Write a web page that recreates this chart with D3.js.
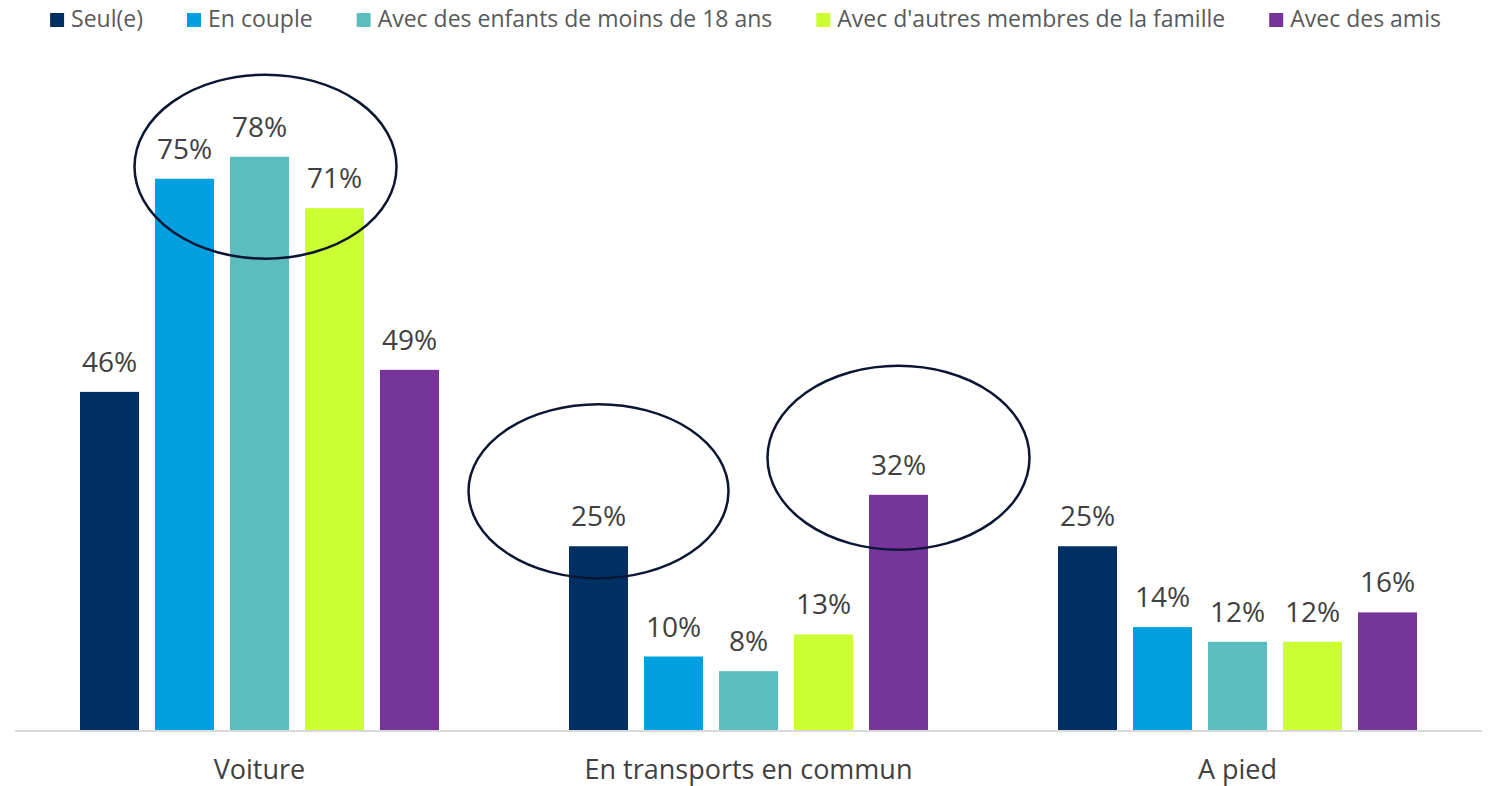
<!DOCTYPE html>
<html>
<head>
<meta charset="utf-8">
<script src="https://cdn.jsdelivr.net/npm/d3@7"></script>
<style>
  body { margin: 0; background: #fff; }
  svg { display: block; font-family: "Open Sans", sans-serif; }
</style>
</head>
<body>
<svg id="chart"></svg>
<script>
// categories and series
const categories = ['Voiture', 'En transports en commun', 'A pied'];
const series = ['Seul(e)', 'En couple', 'Avec des enfants de moins de 18 ans', "Avec d'autres membres de la famille", 'Avec des amis'];
const colors = ['#003063', '#009FE0', '#5CBDBE', '#CCFF33', '#77349B'];

// values in %, one array per series (Voiture, transports, a pied)
const seul = [46, 25, 25];
const couple = [75, 10, 14];
const enfants = [78, 8, 12];
const famille = [71, 13, 12];
const amis = [49, 32, 16];
const values = [seul, couple, enfants, famille, amis];

// circled bars: [category index, series index]
const highlights = [[0, 2], [1, 0], [1, 4]];

const width = 1491, height = 786;

const svg = d3.select('#chart')
	.attr('width', width)
	.attr('height', height);

// scales
const x0 = d3.scaleBand().domain(categories).range([15, 1482]).paddingInner(0).paddingOuter(0);
const x1 = d3.scaleBand().domain(series).range([0, x0.bandwidth()])
	.paddingInner(16 / 75).paddingOuter(0.8667);
const y = d3.scaleLinear().domain([0, 80]).range([730, 142]);
const color = d3.scaleOrdinal(series, colors);

// Draw bars
const groups = svg.append('g')
	.selectAll('g')
	.data(categories)
	.join('g')
	.attr('transform', d => `translate(${x0(d)},0)`);

groups.selectAll('rect')
	.data((c, ci) => series.map((s, si) => ({ s, v: values[si][ci] })))
	.join('rect')
	.attr('x', d => x1(d.s))
	.attr('y', d => y(d.v))
	.attr('width', x1.bandwidth())
	.attr('height', d => y(0) - y(d.v))
	.attr('fill', d => color(d.s));

// value labels
groups.selectAll('text')
	.data((c, ci) => series.map((s, si) => ({ s, v: values[si][ci] })))
	.join('text')
	.attr('x', d => x1(d.s) + x1.bandwidth() / 2)
	.attr('y', d => y(d.v) - 20)
	.attr('text-anchor', 'middle')
	.attr('font-size', 28)
	.attr('fill', '#404040')
	.text(d => d.v + '%');

// x axis line
svg.append('line')
	.attr('x1', x0.range()[0]).attr('x2', x0.range()[1])
	.attr('y1', y(0) + 1).attr('y2', y(0) + 1)
	.attr('stroke', '#d9d9d9')
	.attr('stroke-width', 2);

// category labels
svg.append('g')
	.selectAll('text')
	.data(categories)
	.join('text')
	.attr('x', d => x0(d) + x0.bandwidth() / 2)
	.attr('y', 779)
	.attr('text-anchor', 'middle')
	.attr('font-size', 27)
	.attr('fill', '#404040')
	.text(d => d);

// ellipses around highlighted bars
const ellipseShape = [
	{ dx: 6, dy: 10, rx: 131, ry: 92 },
	{ dx: 0, dy: -55, rx: 130, ry: 87 },
	{ dx: 0, dy: -37, rx: 131, ry: 92 }
];
svg.append('g')
	.selectAll('ellipse')
	.data(highlights)
	.join('ellipse')
	.attr('cx', (d, i) => x0(categories[d[0]]) + x1(series[d[1]]) + x1.bandwidth() / 2 + ellipseShape[i].dx)
	.attr('cy', (d, i) => y(values[d[1]][d[0]]) + ellipseShape[i].dy)
	.attr('rx', (d, i) => ellipseShape[i].rx)
	.attr('ry', (d, i) => ellipseShape[i].ry)
	.attr('fill', 'none')
	.attr('stroke', '#0a1633')
	.attr('stroke-width', 2.5);

// legend, centered at the top
const legend = svg.append('g');
const items = legend.selectAll('g')
	.data(series)
	.join('g');
items.append('rect')
	.attr('width', 14).attr('height', 14)
	.attr('y', 13)
	.attr('fill', d => color(d));
items.append('text')
	.attr('x', 21)
	.attr('y', 27)
	.attr('font-size', 23)
	.attr('fill', '#595959')
	.text(d => d);

let pos = 0;
items.each(function () {
	const w = this.querySelector('text').getComputedTextLength();
	d3.select(this).attr('transform', `translate(${pos},0)`);
	pos += 21 + w + 44;
});
const total = pos - 44;
legend.attr('transform', `translate(${(width - total) / 2},0)`);
</script>
</body>
</html>
